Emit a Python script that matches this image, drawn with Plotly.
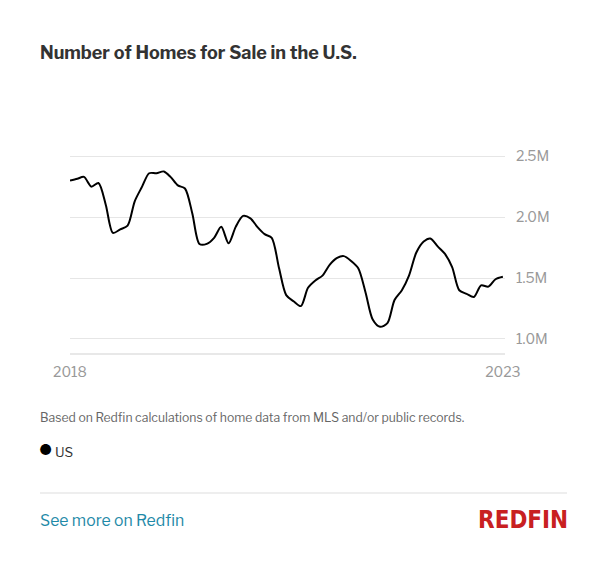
# coding=UTF-8

import plotly.graph_objects as go
import pandas as pd

# monthly inventory, US, in millions
months = pd.date_range("2018-01-01", "2023-01-01", freq="MS")
homes_for_sale = [
    2.30, 2.315, 2.33, 2.25, 2.28, 2.10, 1.87, 1.90, 1.93, 2.13, 2.25, 2.36,
    2.36, 2.375, 2.33, 2.26, 2.235, 2.03, 1.78, 1.78, 1.83, 1.92, 1.785, 1.92,
    2.01, 1.99, 1.92, 1.86, 1.83, 1.58, 1.36, 1.31, 1.27, 1.42, 1.48, 1.52,
    1.61, 1.665, 1.68, 1.64, 1.58, 1.38, 1.16, 1.10, 1.13, 1.32, 1.40, 1.52,
    1.71, 1.80, 1.825, 1.76, 1.70, 1.59, 1.40, 1.37, 1.345, 1.44, 1.43, 1.49,
    1.51,
]
values = [v * 1e6 for v in homes_for_sale]

y_ticks = [1.0e6, 1.5e6, 2.0e6, 2.5e6]
y_tick_labels = ["1.0M", "1.5M", "2.0M", "2.5M"]
x_ticks = ["2018-01-01", "2023-01-01"]
x_tick_labels = ["2018", "2023"]

W, H = 607, 588
PLOT_L, PLOT_R, PLOT_T, PLOT_B = 70, 505, 144, 353
FONT = "Libre Franklin, Inter, Lato, sans-serif"


def px(x):
    return (x - PLOT_L) / (PLOT_R - PLOT_L)


def py(y):
    return (PLOT_B - y) / (PLOT_B - PLOT_T)


def text_at(x, y, text, size, color, family=FONT, xanchor="left"):
    return dict(
        x=px(x), y=py(y), xref="paper", yref="paper",
        xanchor=xanchor, yanchor="middle", showarrow=False,
        text=text, font=dict(size=size, color=color, family=family),
    )


trace = go.Scatter(
    x=months, y=values, mode="lines",
    line=dict(color="#000000", width=2, shape="spline", smoothing=0.8),
    hoverinfo="skip", showlegend=False,
)

layout = go.Layout(
    width=W, height=H,
    margin=dict(l=PLOT_L, r=W - PLOT_R, t=PLOT_T, b=H - PLOT_B),
    paper_bgcolor="white", plot_bgcolor="white",
    font=dict(family=FONT),
    title=dict(
        text="<b>Number of Homes for Sale in the U.S.</b>",
        x=40 / W, xanchor="left", xref="container",
        y=1 - 53 / H, yanchor="middle", yref="container",
        font=dict(size=18, color="#333333", family=FONT),
    ),
    xaxis=dict(
        range=["2018-01-01", "2023-01-10"],
        tickvals=x_ticks, ticktext=x_tick_labels,
        showgrid=False, zeroline=False,
        showline=True, linecolor="#e8e8e8", linewidth=2,
        ticks="", ticklabelstandoff=5,
        tickfont=dict(size=14, color="#999999"),
    ),
    yaxis=dict(
        range=[0.885e6, 2.6e6], side="right",
        tickvals=y_ticks, ticktext=y_tick_labels,
        showgrid=True, gridcolor="#e6e6e6", gridwidth=1,
        zeroline=False, showline=False, ticks="",
        ticklabelstandoff=10,
        tickfont=dict(size=14, color="#999999"),
    ),
    shapes=[
        dict(type="line", xref="paper", yref="paper",
             x0=px(40), x1=px(567), y0=py(493), y1=py(493),
             line=dict(color="#dddddd", width=1)),
    ],
    annotations=[
        text_at(38, 417, "Based on Redfin calculations of home data from MLS and/or public records.",
                12.2, "#666666"),
        text_at(37, 450, "●", 14.5, "#000000"),
        text_at(53, 452, "US", 13.5, "#333333"),
        text_at(38, 520, "See more on Redfin", 15.8, "#1f8aa8"),
        text_at(570, 520, "<b>REDFIN</b>", 24, "#c82021",
                family="Liberation Sans Narrow, DejaVu Sans Condensed, Arial Narrow, sans-serif",
                xanchor="right"),
    ],
)

fig = go.Figure(data=[trace], layout=layout)
fig.write_html("out.html", config={"displayModeBar": False},
               post_script="document.body.style.margin='0';")
